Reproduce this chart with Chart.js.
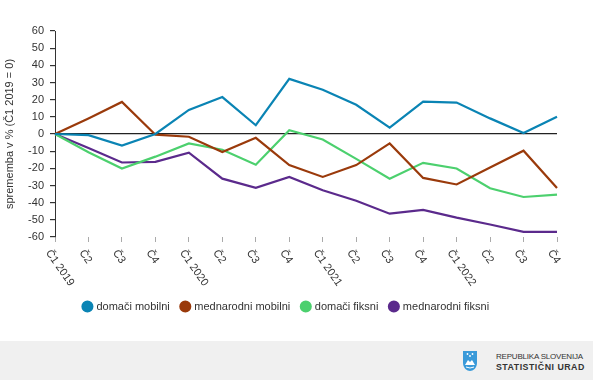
<!DOCTYPE html>
<html>
<head>
<meta charset="utf-8">
<script src="https://cdn.jsdelivr.net/npm/chart.js@4"></script>
<style>
  html, body { margin: 0; padding: 0; background: #fff; }
  body { width: 593px; height: 380px; position: relative; overflow: hidden; font-family: "Liberation Sans", Arial, sans-serif; }
  #wrap { position: absolute; left: 0; top: 0; width: 593px; height: 341px; }
  #footer { position: absolute; left: 0; top: 341px; width: 593px; height: 39px; background: #f0f0f0; }
  #logo { position: absolute; left: 462px; top: 350px; }
  #brand { position: absolute; left: 496px; top: 351px; color: #333; line-height: 11px; }
  #brand .l1 { font-size: 8px; letter-spacing: -0.2px; }
  #brand .l2 { font-size: 8.8px; font-weight: bold; letter-spacing: 0.5px; }
</style>
</head>
<body>
<div id="wrap"><canvas id="chart"></canvas></div>
<div id="footer"></div>
<svg id="logo" width="16" height="22" viewBox="0 0 16 22">
  <path d="M1 1 H15 V13 C15 18 11 21 8 21 C5 21 1 18 1 13 Z" fill="#3a9ad9"/>
  <circle cx="5.5" cy="4" r="0.9" fill="#fff"/><circle cx="10.5" cy="4" r="0.9" fill="#fff"/><circle cx="8" cy="6" r="0.9" fill="#fff"/>
  <path d="M3 15 L6 10 L8 12 L10 10 L13 15 Z" fill="#fff"/>
  <path d="M4 17 Q8 19 12 17" stroke="#fff" stroke-width="1" fill="none"/>
</svg>
<div id="brand"><div class="l1">REPUBLIKA SLOVENIJA</div><div class="l2">STATISTIČNI URAD</div></div>
<script>
// quarters
const labels = ['Č1 2019', 'Č2', 'Č3', 'Č4', 'Č1 2020', 'Č2', 'Č3', 'Č4',
                'Č1 2021', 'Č2', 'Č3', 'Č4', 'Č1 2022', 'Č2', 'Č3', 'Č4'];

// series (change in %, Č1 2019 = 0)
const domaciMobilni = [0, -0.7, -6.7, 0, 14, 21.5, 5.1, 32.1, 25.8, 17, 3.7, 18.9, 18.3, 9.1, 0.6, 10.1];
const mednarodniMobilni = [0, 9.1, 18.7, -0.4, -1.6, -10.5, -2.2, -18.1, -25, -18.1, -5.5, -25.6, -29.4, -19.5, -9.7, -31.4];
const domaciFiksni = [0, -10.6, -20.1, -13.2, -5.5, -9.2, -17.9, 2.2, -3.2, -14.5, -26, -16.8, -20.1, -31.6, -36.7, -35.3];
const mednarodniFiksni = [0, -8.1, -16.6, -16.2, -10.9, -26, -31.4, -25, -32.8, -38.9, -46.4, -44.2, -48.7, -52.7, -57, -57];

const yTicks = { min: -60, max: 60, step: 10 };

function makeSet(label, data, color) {
    return {
        label: label,
        data: data,
        borderColor: color,
        backgroundColor: color,
        borderWidth: 2.2,
        pointRadius: 0,
        pointHoverRadius: 0,
        tension: 0
    };
}

// rotated category labels (clockwise, starting at the tick)
const xLabelPlugin = {
    id: 'xLabels',
    afterLayout(chart) {
        // nudge legend a bit to the right, like the original
        chart.legend.left += 8;
        chart.legend.right += 8;
    },
    afterDraw(chart) {
        const ctx = chart.ctx;
        const xScale = chart.scales.x;
        const bottom = chart.chartArea.bottom;
        ctx.save();
        ctx.font = '11px "Liberation Sans", Arial, sans-serif';
        ctx.fillStyle = '#333';
        ctx.textAlign = 'left';
        ctx.textBaseline = 'middle';
        labels.forEach((lab, i) => {
            const x = xScale.getPixelForTick(i);
            ctx.save();
            ctx.translate(x - 7, bottom + 14);
            ctx.rotate(55 * Math.PI / 180);
            ctx.fillText(lab, 0, 0);
            ctx.restore();
        });
        ctx.restore();
    }
};

const ctx = document.getElementById('chart').getContext('2d');
new Chart(ctx, {
    type: 'line',
    data: {
        labels: labels,
        datasets: [
            makeSet('domači mobilni', domaciMobilni, '#0a84b4'),
            makeSet('mednarodni mobilni', mednarodniMobilni, '#9a3a0b'),
            makeSet('domači fiksni', domaciFiksni, '#4cd06e'),
            makeSet('mednarodni fiksni', mednarodniFiksni, '#5b2a8c')
        ]
    },
    options: {
        responsive: true,
        maintainAspectRatio: false,
        animation: false,
        layout: {
            padding: { top: 31, right: 36, bottom: 19, left: 0 }
        },
        scales: {
            x: {
                offset: false,
                border: { display: false },
                grid: {
                    display: true,
                    drawOnChartArea: false,
                    drawTicks: true,
                    tickLength: 5,
                    tickColor: '#aaa'
                },
                ticks: { display: false },
                afterFit(scale) { scale.height = 52; }
            },
            y: {
                min: yTicks.min,
                max: yTicks.max,
                border: { display: true, color: '#333', width: 1 },
                grid: {
                    drawOnChartArea: true,
                    drawTicks: true,
                    tickLength: 5,
                    tickColor: '#333',
                    color: c => (c.tick && c.tick.value === 0) ? '#222' : 'transparent',
                    lineWidth: 1.2
                },
                ticks: {
                    stepSize: yTicks.step,
                    padding: 6,
                    color: '#333',
                    font: { family: '"Liberation Sans", Arial, sans-serif', size: 11 }
                },
                title: {
                    display: true,
                    text: 'sprememba v % (Č1 2019 = 0)',
                    color: '#333',
                    padding: { top: 3, bottom: 0 },
                    font: { family: '"Liberation Sans", Arial, sans-serif', size: 11 }
                },
                afterFit(scale) { scale.width = 55; }
            }
        },
        plugins: {
            legend: {
                position: 'bottom',
                labels: {
                    usePointStyle: true,
                    pointStyle: 'circle',
                    boxWidth: 7,
                    boxHeight: 7,
                    padding: 12,
                    color: '#333',
                    font: { family: '"Liberation Sans", Arial, sans-serif', size: 11 }
                }
            },
            tooltip: { enabled: false }
        }
    },
    plugins: [xLabelPlugin]
});
</script>
</body>
</html>
